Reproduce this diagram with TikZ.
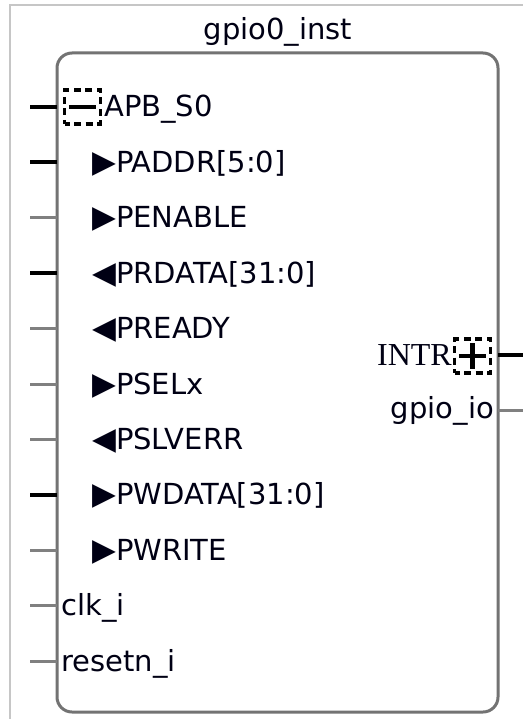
\documentclass[tikz,border=0pt]{standalone}
\usepackage{fontspec}
\setmainfont{DejaVu Sans}
\newfontfamily\intrfont{Liberation Serif}
\newcommand\pinin{{\fontsize{31}{31}\selectfont ▶}}
\newcommand\pinout{{\fontsize{31}{31}\selectfont ◀}}
\begin{document}
\begin{tikzpicture}[x=1pt, y=-1pt,
  blockbox/.style={draw=black!55, line width=3pt, rounded corners=15pt,
    inner sep=0pt, outer sep=0pt, fill=white},
  pinlbl/.style={font=\fontsize{29}{34}\selectfont, text=black!92!blue,
    anchor=base west, inner sep=0pt},
  buswire/.style={line width=4pt, black},
  sigwire/.style={line width=3pt, black!50},
  busicon/.style={draw=black, dashed, dash pattern=on 7pt off 4.5pt, dash phase=2pt,
    line width=3.5pt, minimum width=36pt, minimum height=34pt, inner sep=0pt},
]

% Picture dimensions
\def\pw{523}      % picture width
\def\ph{719}      % picture height
\def\sx{30}       % left stub start x
\def\ex{523}      % right stub end x
\def\tx{92}       % x of arrow labels
\def\dy{10}       % baseline offset from pin centre

\useasboundingbox (0, 0) rectangle (\pw, \ph);
\fill[white] (0, 0) rectangle (\pw, \ph);

% outer frame
\draw[gray!45, line width=2.5pt] (10, \ph) -- (10, 5) -- (\pw, 5);

% ============================================================
% INSTANCE BLOCK
% ============================================================
\node[blockbox, minimum width=441pt, minimum height=659pt]
  (blk) at (277.5, 382.5) {};
\node[pinlbl, anchor=base] (title) at (278, 40) {gpio0\_inst};

% ============================================================
% LEFT PINS
% ============================================================
\coordinate (pAPB) at (\sx, 107);
\node[busicon] (apbicon) at (82.5, 107) {};
\draw[line width=4.5pt] ([xshift=6pt]apbicon.west) -- ([xshift=-6pt]apbicon.east);
\node[pinlbl] (lAPB) at (104, 107+\dy) {APB\_S0};
\draw[buswire] (pAPB) -- (blk.west |- pAPB);

\coordinate (pPADDR) at (\sx, 162.4);
\node[pinlbl] (lPADDR) at (\tx, 162.4+\dy) {\pinin PADDR[5:0]};
\draw[buswire] (pPADDR) -- (blk.west |- pPADDR);

\coordinate (pPENABLE) at (\sx, 217.8);
\node[pinlbl] (lPENABLE) at (\tx, 217.8+\dy) {\pinin PENABLE};
\draw[sigwire] (pPENABLE) -- (blk.west |- pPENABLE);

\coordinate (pPRDATA) at (\sx, 273.2);
\node[pinlbl] (lPRDATA) at (\tx, 273.2+\dy) {\pinout PRDATA[31:0]};
\draw[buswire] (pPRDATA) -- (blk.west |- pPRDATA);

\coordinate (pPREADY) at (\sx, 328.6);
\node[pinlbl] (lPREADY) at (\tx, 328.6+\dy) {\pinout PREADY};
\draw[sigwire] (pPREADY) -- (blk.west |- pPREADY);

\coordinate (pPSELx) at (\sx, 384);
\node[pinlbl] (lPSELx) at (\tx, 384+\dy) {\pinin PSELx};
\draw[sigwire] (pPSELx) -- (blk.west |- pPSELx);

\coordinate (pPSLVERR) at (\sx, 439.4);
\node[pinlbl] (lPSLVERR) at (\tx, 439.4+\dy) {\pinout PSLVERR};
\draw[sigwire] (pPSLVERR) -- (blk.west |- pPSLVERR);

\coordinate (pPWDATA) at (\sx, 494.8);
\node[pinlbl] (lPWDATA) at (\tx, 494.8+\dy) {\pinin PWDATA[31:0]};
\draw[buswire] (pPWDATA) -- (blk.west |- pPWDATA);

\coordinate (pPWRITE) at (\sx, 550.2);
\node[pinlbl] (lPWRITE) at (\tx, 550.2+\dy) {\pinin PWRITE};
\draw[sigwire] (pPWRITE) -- (blk.west |- pPWRITE);

\coordinate (pclk) at (\sx, 605.6);
\node[pinlbl] (lclk) at (61, 605.6+\dy) {clk\_i};
\draw[sigwire] (pclk) -- (blk.west |- pclk);

\coordinate (preset) at (\sx, 661);
\node[pinlbl] (lreset) at (61, 661+\dy) {resetn\_i};
\draw[sigwire] (preset) -- (blk.west |- preset);

% ============================================================
% RIGHT PINS
% ============================================================
\coordinate (pINTR) at (\ex, 355);
\node[busicon] (intricon) at (472.5, 356) {};
\draw[line width=4.5pt] ([xshift=6pt]intricon.west) -- ([xshift=-6pt]intricon.east);
\draw[line width=4.5pt] ([yshift=-6pt]intricon.north) -- ([yshift=6pt]intricon.south);
\node[pinlbl, anchor=base east, font=\intrfont\fontsize{32}{36}\selectfont]
  (lINTR) at (452, 365) {INTR};
\draw[buswire] (blk.east |- pINTR) -- (pINTR);

\coordinate (pgpio) at (\ex, 410);
\node[pinlbl, anchor=base east] (lgpio) at (494, 418) {gpio\_io};
\draw[sigwire] (blk.east |- pgpio) -- (pgpio);

\end{tikzpicture}
\end{document}
